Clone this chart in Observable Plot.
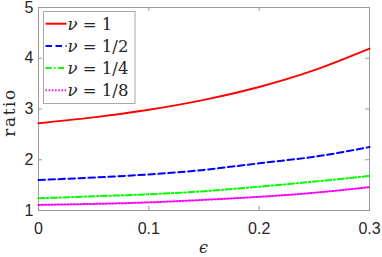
<!DOCTYPE html>
<html><head><meta charset="utf-8">
<script src="https://cdn.jsdelivr.net/npm/d3@7"></script>
<script src="https://cdn.jsdelivr.net/npm/@observablehq/plot@0.6"></script>
<style>body{margin:0;background:#fff} #chart{width:382px;height:257px}</style>
</head><body><div id="chart"></div>
<script>
const eps = [0, 0.05, 0.1, 0.15, 0.2, 0.25, 0.3];
const nu1 = [2.72, 2.835, 2.985, 3.18, 3.435, 3.765, 4.19];
const nu2 = [1.60, 1.65, 1.71, 1.80, 1.93, 2.06, 2.25];
const nu4 = [1.24, 1.28, 1.32, 1.38, 1.47, 1.57, 1.68];
const nu8 = [1.11, 1.13, 1.16, 1.21, 1.27, 1.35, 1.46];
const seriesLabels = ["1", "1/2", "1/4", "1/8"];
const seriesColors = ["#ff0000", "#0000ff", "#00ff00", "#ff00ff"];
const seriesDash = [null, "6.5,3.5", "6,2.5,1.5,2.5", "1.4,1.8"];
const xTicks = [0, 0.1, 0.2, 0.3];
const yTicks = [1, 2, 3, 4, 5];
const xLabel = "ϵ";
const yLabel = "ratio";

const W = 382, H = 257, mL = 38, mR = 13, mT = 7, mB = 47;
const pw = W - mL - mR, ph = H - mT - mB;
const series = [nu1, nu2, nu4, nu8];
const axisColor = "#9a9a9a";

const chart = Plot.plot({
  width: W, height: H,
  marginLeft: mL, marginRight: mR, marginTop: mT, marginBottom: mB,
  style: {fontFamily: "'Liberation Sans', Arial, sans-serif", fontSize: "16px", color: "#262626", background: "#fff", overflow: "visible"},
  x: {domain: [0, 0.3], axis: null},
  y: {domain: [1, 5], axis: null},
  marks: [
    Plot.frame({stroke: axisColor}),
    Plot.tickX(xTicks, {x: d => d, stroke: axisColor, insetTop: ph - 4}),
    Plot.tickX(xTicks, {x: d => d, stroke: axisColor, insetBottom: ph - 4}),
    Plot.tickY(yTicks, {y: d => d, stroke: axisColor, insetRight: pw - 4}),
    Plot.tickY(yTicks, {y: d => d, stroke: axisColor, insetLeft: pw - 4}),
    Plot.axisX({ticks: xTicks, tickSize: 0, tickPadding: 12, tickFormat: d => String(d), fontSize: 16, label: null}),
    Plot.axisY({ticks: yTicks, tickSize: 0, tickPadding: 5, tickFormat: d => String(d), fontSize: 16, label: null}),
    ...series.map((s, i) => Plot.line(eps, {x: eps, y: s, stroke: seriesColors[i], strokeWidth: 2, strokeDasharray: seriesDash[i], curve: "natural"}))
  ]
});
document.getElementById("chart").appendChild(chart);

const svg = d3.select(chart);
const serif = "'DejaVu Serif', 'Liberation Serif', serif";
// axis labels
svg.append("text").attr("transform", `translate(15,${mT + ph / 2 + 4}) rotate(-90)`)
  .attr("text-anchor", "middle").attr("font-family", serif).attr("font-size", 17)
  .attr("letter-spacing", 1.5).attr("fill", "#262626").text(yLabel);
svg.append("text").attr("x", mL + pw / 2).attr("y", 253)
  .attr("text-anchor", "middle").attr("font-family", serif).attr("font-style", "italic")
  .attr("font-size", 16).attr("fill", "#262626").text(xLabel);

// legend
const lg = svg.append("g").attr("text-anchor", "start");
lg.append("rect").attr("x", 43.5).attr("y", 11.5).attr("width", 91.5).attr("height", 92)
  .attr("fill", "#fff").attr("stroke", "#a8a8a8");
seriesLabels.forEach((lab, i) => {
  const cy = 23.7 + i * 22.2;
  lg.append("line").attr("x1", 45.5).attr("x2", 66.5).attr("y1", cy).attr("y2", cy)
    .attr("stroke", seriesColors[i]).attr("stroke-width", 2)
    .attr("stroke-dasharray", seriesDash[i]);
  const t = lg.append("text").attr("x", 67.5).attr("y", cy + 6).attr("text-anchor", "start")
    .attr("font-family", serif).attr("font-size", 16.5).attr("fill", "#262626")
    .style("white-space", "pre");
  t.append("tspan").attr("font-style", "italic").text("ν");
  t.append("tspan").text(" = " + lab);
});
</script>
</body></html>
